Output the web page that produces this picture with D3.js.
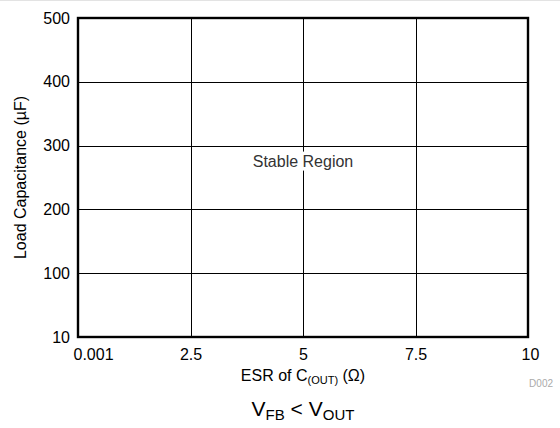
<!DOCTYPE html>
<html><head><meta charset="utf-8">
<script src="https://cdn.jsdelivr.net/npm/d3@7"></script>
<style>body{margin:0;background:#fff}svg{display:block}text{font-family:"Liberation Sans",Arial,sans-serif}</style>
</head><body><div id="c"></div>
<script>
const xTickLabels = ["0.001","2.5","5","7.5","10"];
const yTickLabels = ["10","100","200","300","400","500"];
const regionLabel = "Stable Region";
const regionAt = {x: "5", y: "300"};

const W = 560, H = 428;
const m = {l: 78, r: 32, t: 18, b: 91};
const FF = "Liberation Sans, Arial, sans-serif";
const svg = d3.select("#c").append("svg").attr("width", W).attr("height", H);
svg.append("line").attr("x1",0).attr("x2",W).attr("y1",0.5).attr("y2",0.5).attr("stroke","#e3e3e3");

const x = d3.scalePoint().domain(xTickLabels).range([m.l, W - m.r]);
const y = d3.scalePoint().domain(yTickLabels).range([H - m.b, m.t]);

const g = svg.append("g");
g.selectAll("line.gx").data(xTickLabels.slice(1, -1)).join("line").attr("class","gx")
  .attr("x1", d => Math.round(x(d)) + 0.5).attr("x2", d => Math.round(x(d)) + 0.5).attr("y1", m.t).attr("y2", H - m.b)
  .attr("stroke", "#000").attr("stroke-width", 1);
g.selectAll("line.gy").data(yTickLabels.slice(1, -1)).join("line").attr("class","gy")
  .attr("y1", d => Math.round(y(d)) + 0.5).attr("y2", d => Math.round(y(d)) + 0.5).attr("x1", m.l).attr("x2", W - m.r)
  .attr("stroke", "#000").attr("stroke-width", 1);

const xa = d3.axisBottom(x).tickSize(0).tickPadding(12);
svg.append("g").attr("transform", `translate(0,${H - m.b})`).call(xa)
  .call(s => s.select(".domain").remove())
  .selectAll("text").style("font-size", "16px").style("fill", "#000").style("font-family", FF)
  .attr("text-anchor", (d, i) => i === 0 ? "start" : "middle")
  .attr("dx", (d, i) => i === 0 ? -5 : (i === xTickLabels.length - 1 ? 2 : 0));
const ya = d3.axisLeft(y).tickSize(0).tickPadding(8);
svg.append("g").attr("transform", `translate(${m.l},0)`).call(ya)
  .call(s => s.select(".domain").remove())
  .selectAll("text").style("font-size", "16px").style("fill", "#000").style("font-family", FF);

// region label with white mask behind it
const rx = x(regionAt.x), ry = y(regionAt.y) + 21;
const rg = svg.append("g");
const bg = rg.append("rect").attr("fill", "#fff");
const rt = rg.append("text").attr("x", rx).attr("y", ry).attr("text-anchor", "middle")
  .style("font-size", "16px").attr("fill", "#333").text(regionLabel);
const bb = rt.node().getBBox();
bg.attr("x", bb.x - 2).attr("y", bb.y - 1).attr("width", bb.width + 4).attr("height", bb.height + 2);

svg.append("rect").attr("x", m.l).attr("y", m.t).attr("width", W - m.l - m.r).attr("height", H - m.t - m.b)
  .attr("fill", "none").attr("stroke", "#000").attr("stroke-width", 2.4);

svg.append("text").attr("transform", `translate(26,${(m.t + H - m.b) / 2}) rotate(-90)`)
  .attr("text-anchor", "middle").style("font-size", "16px").text("Load Capacitance (µF)");
const xt = svg.append("text").attr("x", x("5")).attr("y", 381).attr("text-anchor", "middle").style("font-size", "16px");
xt.append("tspan").text("ESR of C");
xt.append("tspan").style("font-size", "11px").attr("dy", 3).text("(OUT)");
xt.append("tspan").attr("dy", -3).text(" (Ω)");
svg.append("text").attr("x", 553).attr("y", 387).attr("text-anchor", "end").style("font-size", "10px").attr("fill", "#aaa").text("D002");
const t = svg.append("text").attr("x", x("5")).attr("y", 416).attr("text-anchor", "middle").style("font-size", "21px");
t.append("tspan").text("V");
t.append("tspan").style("font-size", "15px").attr("dy", 4).text("FB");
t.append("tspan").attr("dy", -4).text(" < V");
t.append("tspan").style("font-size", "15px").attr("dy", 4).text("OUT");
</script></body></html>
